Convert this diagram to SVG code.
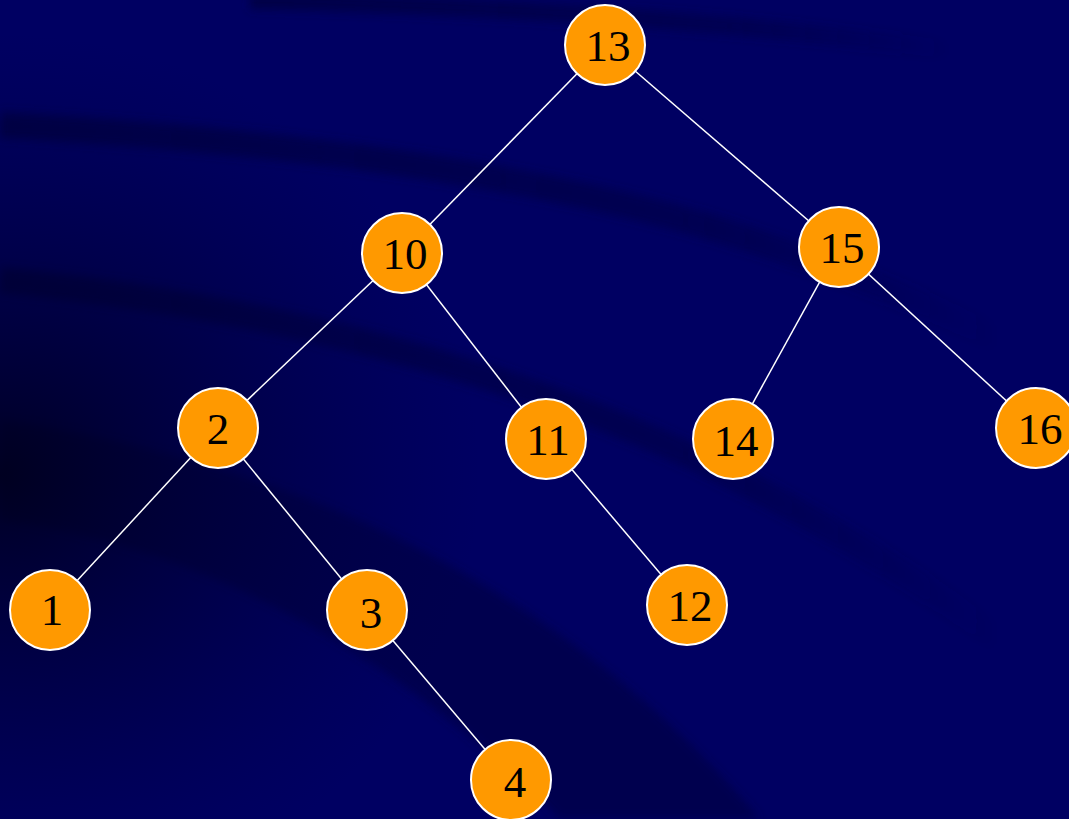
<svg xmlns="http://www.w3.org/2000/svg" width="1069" height="819" viewBox="0 0 1069 819">
  <defs>
    <radialGradient id="dark" cx="0" cy="0.58" r="0.45" gradientTransform="translate(0,0.58) scale(1,1.2) translate(0,-0.58)">
      <stop offset="0" stop-color="#000018" stop-opacity="0.85"/>
      <stop offset="0.6" stop-color="#000030" stop-opacity="0.35"/>
      <stop offset="1" stop-color="#000040" stop-opacity="0"/>
    </radialGradient>
    <linearGradient id="fadeR" x1="0" y1="0" x2="1" y2="0">
      <stop offset="0" stop-color="#000040" stop-opacity="0.8"/>
      <stop offset="0.7" stop-color="#000040" stop-opacity="0.5"/>
      <stop offset="1" stop-color="#000040" stop-opacity="0"/>
    </linearGradient>
    <filter id="blur" x="-20%" y="-20%" width="140%" height="140%">
      <feGaussianBlur stdDeviation="5"/>
    </filter>
    <style>
      .edge { stroke: #ffffff; stroke-width: 1.5; fill: none; }
      .node circle { fill: #ff9900; stroke: #ffffff; stroke-width: 2; }
      .node text { font-family: "Liberation Serif", "Times New Roman", serif; font-size: 45px; fill: #000000; text-anchor: middle; }
      .band { fill: none; stroke: url(#fadeR); }
    </style>
  </defs>
  <rect x="0" y="0" width="1069" height="819" fill="#000062"/>
  <g id="background" filter="url(#blur)">
    <path class="band" d="M 250 0 Q 650 10 950 50" stroke-width="18"/>
    <path class="band" d="M 0 125 Q 450 150 720 230 Q 880 280 1000 340" stroke-width="26"/>
    <path class="band" d="M 0 280 Q 400 320 700 460 Q 880 550 1000 640" stroke-width="26"/>
    <path d="M 0 420 Q 480 490 760 819 L 560 819 Q 300 560 0 520 Z" fill="#000040" opacity="0.6"/>
  </g>
  <rect x="0" y="0" width="1069" height="819" fill="url(#dark)"/>
  <g id="connectors">
    <line class="edge" x1="605" y1="45" x2="402" y2="253"/>
    <line class="edge" x1="605" y1="45" x2="839" y2="247"/>
    <line class="edge" x1="402" y1="253" x2="218" y2="428"/>
    <line class="edge" x1="402" y1="253" x2="546" y2="439"/>
    <line class="edge" x1="839" y1="247" x2="733" y2="439"/>
    <line class="edge" x1="839" y1="247" x2="1036" y2="428"/>
    <line class="edge" x1="218" y1="428" x2="50" y2="610"/>
    <line class="edge" x1="218" y1="428" x2="367" y2="610"/>
    <line class="edge" x1="546" y1="439" x2="687" y2="605"/>
    <line class="edge" x1="367" y1="610" x2="511" y2="780"/>
  </g>
  <g id="n13" class="node"><circle cx="605" cy="45" r="40"/><text x="608" y="61">13</text></g>
  <g id="n10" class="node"><circle cx="402" cy="253" r="40"/><text x="405" y="269">10</text></g>
  <g id="n15" class="node"><circle cx="839" cy="247" r="40"/><text x="842" y="263">15</text></g>
  <g id="n2" class="node"><circle cx="218" cy="428" r="40"/><text x="218" y="444">2</text></g>
  <g id="n11" class="node"><circle cx="546" cy="439" r="40"/><text x="548" y="455">11</text></g>
  <g id="n14" class="node"><circle cx="733" cy="439" r="40"/><text x="736" y="456">14</text></g>
  <g id="n16" class="node"><circle cx="1036" cy="428" r="40"/><text x="1040" y="444">16</text></g>
  <g id="n1" class="node"><circle cx="50" cy="610" r="40"/><text x="52" y="625">1</text></g>
  <g id="n3" class="node"><circle cx="367" cy="610" r="40"/><text x="371" y="628">3</text></g>
  <g id="n12" class="node"><circle cx="687" cy="605" r="40"/><text x="690" y="621">12</text></g>
  <g id="n4" class="node"><circle cx="511" cy="780" r="40"/><text x="515" y="797">4</text></g>
</svg>
